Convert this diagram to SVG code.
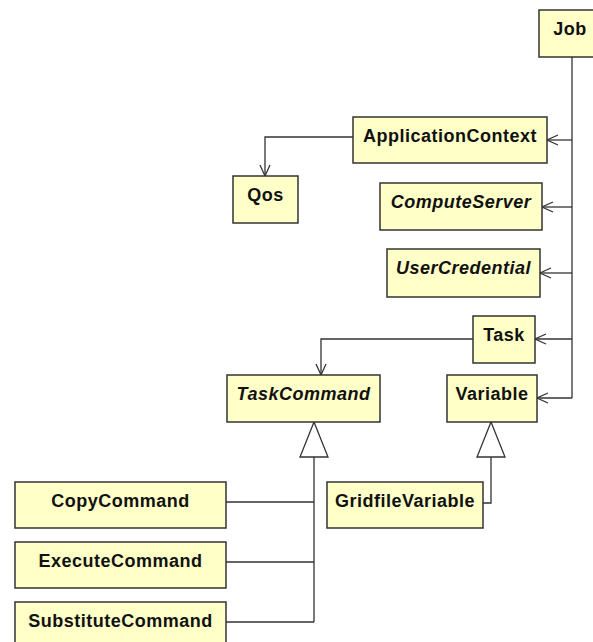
<svg xmlns="http://www.w3.org/2000/svg" width="593" height="642" viewBox="0 0 593 642">
<defs>
<style>
.box{fill:#ffffc8;stroke:#333;stroke-width:1.5}
.t{font-family:"Liberation Sans",Arial,sans-serif;font-weight:bold;font-size:18px;letter-spacing:0.5px;text-anchor:middle;fill:#111}
.i{font-style:italic}
.c{fill:none;stroke:#333;stroke-width:1.3}
.tri{fill:#fff;stroke:#333;stroke-width:1.3}
</style>
<marker id="open" markerUnits="userSpaceOnUse" markerWidth="14" markerHeight="14" viewBox="-12 -7 14 14" refX="0" refY="0" orient="auto">
<path d="M-11,-5 L0,0 L-11,5" fill="none" stroke="#333" stroke-width="1.3"/>
</marker>
</defs>
<rect width="593" height="642" fill="#fff"/>
<g id="connectors">
<path class="c" d="M572,57 V398"/>
<path class="c" d="M572,140 H547" marker-end="url(#open)"/>
<path class="c" d="M572,207 H542" marker-end="url(#open)"/>
<path class="c" d="M572,273 H540" marker-end="url(#open)"/>
<path class="c" d="M572,339 H535" marker-end="url(#open)"/>
<path class="c" d="M572,398 H537" marker-end="url(#open)"/>
<path class="c" d="M353,137 H265 V176" marker-end="url(#open)"/>
<path class="c" d="M473,339 H321 V375" marker-end="url(#open)"/>
<path class="c" d="M314,457 V622 M226,502 H314 M226,562 H314 M226,622 H314"/>
<polygon class="tri" points="314,422 300,457 328,457"/>
<path class="c" d="M491,457 V503 H483"/>
<polygon class="tri" points="491,422 477,457 505,457"/>
</g>
<g id="Job"><rect class="box" x="539" y="10" width="62" height="47"/><text class="t" x="570" y="35">Job</text></g>
<g id="ApplicationContext"><rect class="box" x="353" y="117" width="194" height="46"/><text class="t" x="450" y="142">ApplicationContext</text></g>
<g id="Qos"><rect class="box" x="233" y="176" width="65" height="47"/><text class="t" x="265.5" y="201">Qos</text></g>
<g id="ComputeServer"><rect class="box" x="380" y="183" width="162" height="47"/><text class="t i" x="461" y="208">ComputeServer</text></g>
<g id="UserCredential"><rect class="box" x="387" y="249" width="153" height="48"/><text class="t i" x="463.5" y="274">UserCredential</text></g>
<g id="Task"><rect class="box" x="473" y="316" width="62" height="47"/><text class="t" x="504" y="341">Task</text></g>
<g id="TaskCommand"><rect class="box" x="227" y="375" width="153" height="47"/><text class="t i" x="303.5" y="400">TaskCommand</text></g>
<g id="Variable"><rect class="box" x="447" y="375" width="90" height="47"/><text class="t" x="492" y="400">Variable</text></g>
<g id="CopyCommand"><rect class="box" x="15" y="482" width="211" height="46"/><text class="t" x="120.5" y="507">CopyCommand</text></g>
<g id="ExecuteCommand"><rect class="box" x="15" y="542" width="211" height="46"/><text class="t" x="120.5" y="567">ExecuteCommand</text></g>
<g id="SubstituteCommand"><rect class="box" x="15" y="602" width="211" height="50"/><text class="t" x="120.5" y="627">SubstituteCommand</text></g>
<g id="GridfileVariable"><rect class="box" x="327" y="482" width="156" height="46"/><text class="t" x="405" y="507">GridfileVariable</text></g>
</svg>
